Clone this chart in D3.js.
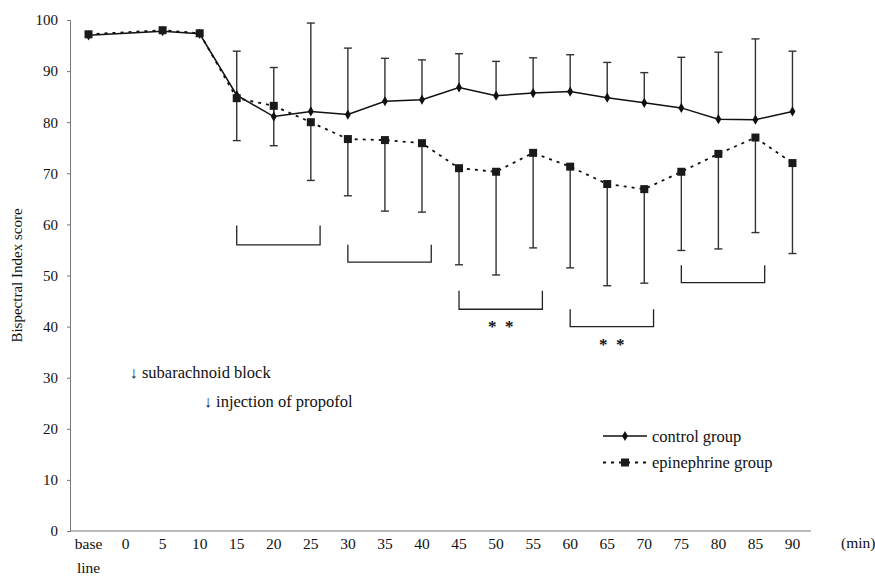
<!DOCTYPE html>
<html>
<head>
<meta charset="utf-8">
<script src="https://cdn.jsdelivr.net/npm/d3@7"></script>
<style>
  body { margin: 0; background: #fff; }
  svg text { font-family: "Liberation Serif", "Times New Roman", Tinos, "Noto Serif", "DejaVu Serif", Times, serif; }
</style>
</head>
<body>
<div class="chart"></div>
<script>
const categories = ['base line', '0', '5', '10', '15', '20', '25', '30', '35', '40',
  '45', '50', '55', '60', '65', '70', '75', '80', '85', '90'];
const control = [97.0, null, 97.8, 97.3, 85.3, 81.1, 82.1, 81.5, 84.1, 84.4,
  86.8, 85.2, 85.7, 86.0, 84.8, 83.8, 82.8, 80.6, 80.5, 82.1];
const controlSD = [null, null, null, null, 8.6, 9.6, 17.3, 13.0, 8.4, 7.8,
  6.6, 6.7, 6.9, 7.2, 6.9, 5.9, 9.9, 13.1, 15.8, 11.8];
const epinephrine = [97.2, null, 98.0, 97.4, 84.7, 83.2, 80.0, 76.7, 76.5, 75.9,
  71.0, 70.3, 74.0, 71.3, 67.9, 66.9, 70.3, 73.8, 77.0, 72.0];
const epinephrineSD = [null, null, null, null, 8.3, 7.8, 11.4, 11.1, 13.9, 13.5,
  18.9, 20.2, 18.6, 19.8, 19.9, 18.4, 15.4, 18.6, 18.6, 17.7];
const yTicks = [0, 10, 20, 30, 40, 50, 60, 70, 80, 90, 100];
// brackets: from, to, top value, bottom value, label
const brackets = [
  ['15', '25', 59.8, 56.0, ''],
  ['30', '40', 56.0, 52.6, ''],
  ['45', '55', 47.0, 43.4, '* *'],
  ['60', '70', 43.4, 40.0, '* *'],
  ['75', '85', 52.0, 48.6, '']
];
const events = [
  ['0', 30, '↓ subarachnoid block'],
  ['10', 24.2, '↓ injection of propofol']
];

const width = 875;
const height = 579;

const svg = d3.select('div.chart')
    .append('svg')
    .attr('width', width)
    .attr('height', height);

const x = d3.scalePoint()
    .domain(categories)
    .range([70, 811])
    .padding(0.5);

const y = d3.scaleLinear()
    .domain([0, 100])
    .range([531, 20]);

// axes
svg.append('line')
    .attr('x1', 70).attr('x2', 811)
    .attr('y1', y(0)).attr('y2', y(0))
    .attr('stroke', '#777').attr('stroke-width', 1);

const yAxis = svg.append('g')
    .attr('transform', 'translate(70,0)')
    .call(d3.axisLeft(y).tickValues(yTicks).tickSize(3).tickPadding(9))
    .attr('font-family', null);
yAxis.select('.domain').attr('stroke', '#777');
yAxis.selectAll('.tick line').attr('stroke', '#777');
yAxis.selectAll('text')
    .attr('font-size', 15)
    .attr('fill', '#111');

svg.selectAll('.xlab')
    .data(categories)
    .enter()
    .append('text')
    .attr('class', 'xlab')
    .attr('x', (d) => x(d))
    .attr('y', 549)
    .attr('text-anchor', 'middle')
    .attr('font-size', 15.5)
    .attr('fill', '#111')
    .each(function(d) {
      const parts = d.split(' ');
      d3.select(this).selectAll('tspan')
          .data(parts)
          .enter()
          .append('tspan')
          .attr('x', x(d))
          .attr('dy', (p, i) => i ? 24 : 0)
          .text((p) => p);
    });

svg.append('text')
    .attr('x', 841)
    .attr('y', 548)
    .attr('font-size', 15.5)
    .attr('fill', '#111')
    .text('(min)');

svg.append('text')
    .attr('transform', 'translate(22,' + y(50) + ') rotate(-90)')
    .attr('text-anchor', 'middle')
    .attr('font-size', 15)
    .attr('fill', '#111')
    .text('Bispectral Index score');

// error bars
const idx = d3.range(categories.length);
const cap = 4;

function errorBars(vals, sds, dir) {
  const g = svg.append('g')
      .attr('stroke', '#333')
      .attr('stroke-width', 1.4);
  const rows = idx.filter((i) => sds[i] != null);
  g.selectAll('line.v')
      .data(rows)
      .enter()
      .append('line')
      .attr('x1', (i) => x(categories[i]))
      .attr('x2', (i) => x(categories[i]))
      .attr('y1', (i) => y(vals[i]))
      .attr('y2', (i) => y(vals[i] + dir * sds[i]));
  g.selectAll('line.c')
      .data(rows)
      .enter()
      .append('line')
      .attr('x1', (i) => x(categories[i]) - cap)
      .attr('x2', (i) => x(categories[i]) + cap)
      .attr('y1', (i) => y(vals[i] + dir * sds[i]))
      .attr('y2', (i) => y(vals[i] + dir * sds[i]));
}
errorBars(control, controlSD, 1);
errorBars(epinephrine, epinephrineSD, -1);

// lines
function drawLine(vals, dash) {
  svg.append('path')
      .datum(idx.filter((i) => vals[i] != null))
      .attr('d', d3.line()
          .x((i) => x(categories[i]))
          .y((i) => y(vals[i])))
      .attr('fill', 'none')
      .attr('stroke', '#111')
      .attr('stroke-width', dash ? 1.8 : 1.5)
      .attr('stroke-dasharray', dash);
}
drawLine(epinephrine, '3,5');
drawLine(control, null);

const diamond = d3.symbol().type(d3.symbolDiamond).size(30);
svg.selectAll('.ctl')
    .data(idx.filter((i) => control[i] != null))
    .enter()
    .append('path')
    .attr('class', 'ctl')
    .attr('transform', (i) => 'translate(' + x(categories[i]) + ',' + y(control[i]) + ')')
    .attr('d', diamond)
    .attr('fill', '#111');

svg.selectAll('.epi')
    .data(idx.filter((i) => epinephrine[i] != null))
    .enter()
    .append('rect')
    .attr('class', 'epi')
    .attr('x', (i) => x(categories[i]) - 4)
    .attr('y', (i) => y(epinephrine[i]) - 4)
    .attr('width', 8)
    .attr('height', 8)
    .attr('fill', '#1a1a1a');

// brackets
const off = x.step() * 0.25;
svg.selectAll('.bracket')
    .data(brackets)
    .enter()
    .append('path')
    .attr('class', 'bracket')
    .attr('d', (b) => {
      const x0 = x(b[0]);
      const x1 = x(b[1]) + off;
      return 'M' + x0 + ',' + y(b[2]) + 'V' + y(b[3]) + 'H' + x1 + 'V' + y(b[2]);
    })
    .attr('fill', 'none')
    .attr('stroke', '#222')
    .attr('stroke-width', 1.3);

svg.selectAll('.stars')
    .data(brackets.filter((b) => b[4]))
    .enter()
    .append('text')
    .attr('x', (b) => (x(b[0]) + x(b[1]) + off) / 2)
    .attr('y', (b) => y(b[3]) + 23)
    .attr('text-anchor', 'middle')
    .attr('font-size', 17)
    .attr('font-weight', 'bold')
    .attr('fill', '#111')
    .text((b) => b[4].replace(' ', '\u00a0\u00a0'));

// event notes
svg.selectAll('.event')
    .data(events)
    .enter()
    .append('text')
    .attr('x', (e) => x(e[0]) + 4)
    .attr('y', (e) => y(e[1]))
    .attr('font-size', 16.5)
    .attr('fill', '#111')
    .text((e) => e[2]);

// legend
const legend = svg.append('g').attr('transform', 'translate(603,436)');
legend.append('line')
    .attr('x1', 0).attr('x2', 44)
    .attr('stroke', '#111').attr('stroke-width', 1.5);
legend.append('path')
    .attr('transform', 'translate(22,0)')
    .attr('d', diamond)
    .attr('fill', '#111');
legend.append('text')
    .attr('x', 49).attr('y', 6)
    .attr('font-size', 16.5).attr('fill', '#111')
    .text('control group');
legend.append('line')
    .attr('x1', 0).attr('x2', 44)
    .attr('y1', 26.5).attr('y2', 26.5)
    .attr('stroke', '#111').attr('stroke-width', 1.8)
    .attr('stroke-dasharray', '3,5');
legend.append('rect')
    .attr('x', 18).attr('y', 22.5)
    .attr('width', 8).attr('height', 8)
    .attr('fill', '#1a1a1a');
legend.append('text')
    .attr('x', 49).attr('y', 32)
    .attr('font-size', 16.5).attr('fill', '#111')
    .text('epinephrine group');
</script>
</body>
</html>
